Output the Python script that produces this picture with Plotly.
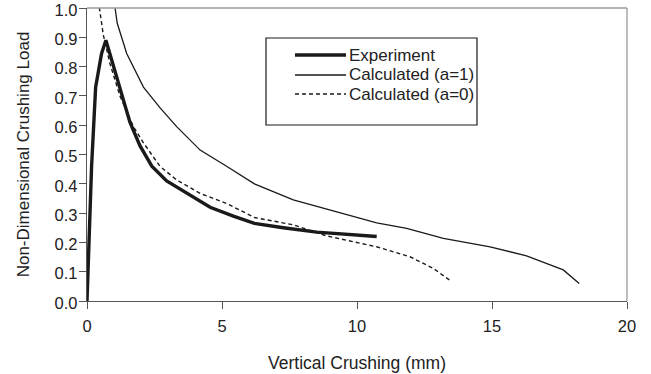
import plotly.graph_objects as go

# Experiment
exp_x = [0, 0.17, 0.32, 0.54, 0.70, 0.98, 1.28, 1.59, 1.96, 2.40, 2.95, 3.69, 4.56, 5.42, 6.2, 7.27, 8.51, 10.73]
exp_y = [0, 0.46, 0.73, 0.845, 0.89, 0.80, 0.70, 0.61, 0.53, 0.46, 0.41, 0.37, 0.32, 0.29, 0.265, 0.25, 0.235, 0.22]

# Calculated (a=1)
a1_x = [1.02, 1.04, 1.12, 1.47, 2.09, 2.70, 3.32, 4.19, 5.17, 6.2, 7.64, 9.37, 10.73, 11.84, 13.2, 14.93, 16.28, 17.64, 18.23]
a1_y = [1.10, 1.0, 0.948, 0.845, 0.73, 0.66, 0.595, 0.515, 0.46, 0.40, 0.345, 0.30, 0.267, 0.248, 0.214, 0.185, 0.154, 0.106, 0.06]

# Calculated (a=0)
a0_x = [0.43, 0.46, 0.60, 0.85, 1.22, 1.72, 2.09, 2.70, 3.32, 4.19, 5.17, 6.2, 7.64, 8.88, 10.73, 11.96, 12.83, 13.42]
a0_y = [1.05, 1.0, 0.91, 0.81, 0.70, 0.595, 0.54, 0.46, 0.413, 0.367, 0.333, 0.285, 0.26, 0.222, 0.185, 0.151, 0.111, 0.072]

names = ["Experiment", "Calculated (a=1)", "Calculated (a=0)"]
x_ticks = [0, 5, 10, 15, 20]
y_ticks = [0.0, 0.1, 0.2, 0.3, 0.4, 0.5, 0.6, 0.7, 0.8, 0.9, 1.0]

W, H = 651, 374
L, R, T, B = 87, 24, 8, 73
pw, ph = W - L - R, H - T - B

def px2paper(px, py):
    return (px - L) / pw, (H - B - py) / ph

FONT = "Liberation Sans, Arial, sans-serif"
TXT = "#222"
fig = go.Figure()
fig.add_trace(go.Scatter(x=exp_x, y=exp_y, mode="lines", name=names[0],
                         line=dict(color="#1a1a1a", width=3.4), showlegend=False))
fig.add_trace(go.Scatter(x=a1_x, y=a1_y, mode="lines", name=names[1],
                         line=dict(color="#1a1a1a", width=1.3), showlegend=False))
fig.add_trace(go.Scatter(x=a0_x, y=a0_y, mode="lines", name=names[2],
                         line=dict(color="#1a1a1a", width=1.4, dash="4px,3px"), showlegend=False))

shapes = []
# top and right frame lines
shapes.append(dict(type="line", xref="paper", yref="paper", x0=0, x1=1, y0=1, y1=1,
                   line=dict(color="#9a9a9a", width=1.3)))
shapes.append(dict(type="line", xref="paper", yref="paper", x0=1, x1=1, y0=0, y1=1,
                   line=dict(color="#9a9a9a", width=1.3)))
# legend box
bx0, by0 = px2paper(266, 125)
bx1, by1 = px2paper(477, 38)
shapes.append(dict(type="rect", xref="paper", yref="paper", x0=bx0, x1=bx1, y0=by0, y1=by1,
                   line=dict(color="#1a1a1a", width=1.2), fillcolor="white", layer="above"))
annotations = []
styles = [dict(width=3.4), dict(width=1.3), dict(width=1.4, dash="4px,3px")]
for i, (nm, py) in enumerate(zip(names, [55, 75, 94])):
    lx0, ly = px2paper(295, py)
    lx1, _ = px2paper(346, py)
    shapes.append(dict(type="line", xref="paper", yref="paper", x0=lx0, x1=lx1, y0=ly, y1=ly,
                       line=dict(color="#1a1a1a", **styles[i]), layer="above"))
    tx, _ = px2paper(347, py)
    annotations.append(dict(x=tx, y=ly, xref="paper", yref="paper", text=nm, showarrow=False,
                            xanchor="left", yanchor="middle",
                            font=dict(family=FONT, size=17, color=TXT)))

fig.update_layout(
    width=W, height=H,
    margin=dict(l=L, r=R, t=T, b=B),
    plot_bgcolor="white", paper_bgcolor="white",
    showlegend=False,
    shapes=shapes, annotations=annotations,
    font=dict(family=FONT, size=16, color=TXT),
)
fig.update_xaxes(range=[0, 20], tickvals=x_ticks, ticks="outside", ticklen=7, tickcolor="#555",
                 showline=True, linecolor="#555", linewidth=1.3, showgrid=False, zeroline=False,
                 automargin=False, ticklabelstandoff=3, ticklabeloverflow="allow",
                 title=dict(text="Vertical Crushing (mm)", standoff=22,
                            font=dict(family=FONT, size=17.5, color=TXT)),
                 tickfont=dict(family=FONT, size=16.5, color=TXT))
fig.update_yaxes(range=[0, 1.0], tickvals=y_ticks, tickformat=".1f", ticks="outside", ticklen=7,
                 tickcolor="#555", showline=True, linecolor="#555", linewidth=1.3,
                 showgrid=False, zeroline=False, automargin=False,
                 ticklabelstandoff=-2, ticklabelshift=2, ticklabeloverflow="allow",
                 title=dict(text="Non-Dimensional Crushing Load", standoff=20,
                            font=dict(family=FONT, size=17, color=TXT)),
                 tickfont=dict(family=FONT, size=16.5, color=TXT))

fig.write_html("out.html", config={"displayModeBar": False},
               post_script="document.body.style.margin='0px';")
